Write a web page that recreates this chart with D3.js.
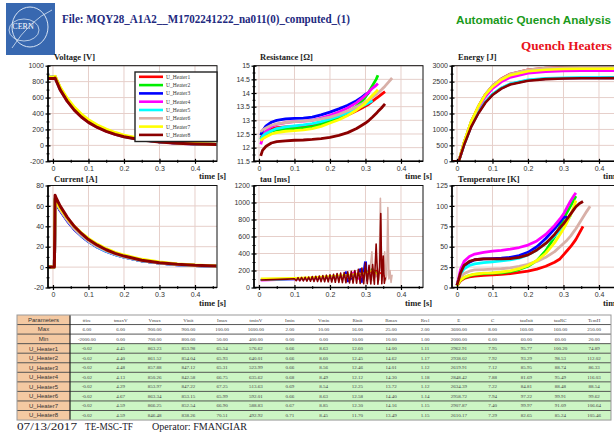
<!DOCTYPE html>
<html>
<head>
<meta charset="utf-8">
<script src="https://cdn.jsdelivr.net/npm/d3@7"></script>
<style>
  body { margin: 0; background: #fff; }
  .tick text { font-family: "Liberation Sans", Arial, sans-serif; font-size: 7px; fill: #333; }
</style>
</head>
<body>
<svg id="chart" width="614" height="432"></svg>
<script>
const heaters = ["U_Heater1", "U_Heater2", "U_Heater3", "U_Heater4", "U_Heater5", "U_Heater6", "U_Heater7", "U_Heater8"];
const heaterColors = ["#ff0000", "#00ee00", "#0000ff", "#ff00ff", "#00ffff", "#d8b0a8", "#ffff00", "#8b0000"];

// Voltage [V]
const voltT = [-0.02, 0.004, 0.006, 0.02, 0.04, 0.06, 0.08, 0.1, 0.125, 0.15, 0.175, 0.2, 0.25, 0.3, 0.35, 0.4, 0.46];
const voltage = [
  [854, 854, 863, 720, 575, 462, 374, 304, 238, 187, 147, 116, 74, 47, 30, 19, 11],
  [854, 854, 861, 718, 574, 461, 373, 303, 237, 186, 146, 115, 73, 46, 30, 19, 11],
  [847, 847, 858, 714, 570, 458, 370, 300, 235, 184, 145, 114, 72, 46, 29, 19, 11],
  [843, 843, 850, 705, 560, 448, 360, 292, 228, 178, 140, 110, 70, 44, 28, 18, 10],
  [847, 847, 854, 710, 565, 452, 364, 295, 231, 181, 142, 112, 71, 45, 29, 18, 10],
  [853, 853, 863, 720, 576, 463, 375, 305, 239, 188, 148, 117, 75, 47, 30, 19, 11],
  [853, 853, 866, 732, 592, 480, 392, 322, 255, 203, 161, 128, 82, 53, 34, 22, 13],
  [838, 838, 846, 700, 555, 443, 356, 288, 225, 176, 138, 108, 68, 43, 27, 17, 10]
];

// Current [A]
const currT = [-0.02, 0.004, 0.006, 0.01, 0.02, 0.04, 0.06, 0.08, 0.1, 0.125, 0.15, 0.175, 0.2, 0.25, 0.3, 0.35, 0.4, 0.46];
const current = [
  [0, 0, 65.5, 62.5, 56, 46, 37.5, 31, 25.5, 20, 16, 12.6, 10, 6.3, 4.0, 2.5, 1.6, 0.9],
  [0, 0, 65.9, 62.8, 56.3, 46.2, 37.7, 31.2, 25.6, 20.1, 16, 12.7, 10.1, 6.3, 4.0, 2.5, 1.6, 0.9],
  [0, 0, 65.3, 62, 55.5, 45.5, 37, 30.5, 25, 19.6, 15.5, 12.3, 9.8, 6.1, 3.9, 2.4, 1.5, 0.9],
  [0, 0, 66.8, 63.5, 56.8, 46.5, 37.8, 31, 25.4, 19.9, 15.7, 12.4, 9.9, 6.2, 3.9, 2.4, 1.5, 0.9],
  [0, 0, 67.3, 64, 57, 46.5, 37.8, 31, 25.4, 19.9, 15.7, 12.4, 9.9, 6.2, 3.9, 2.4, 1.5, 0.9],
  [0, 0, 66, 63, 56.5, 46.3, 37.8, 31.3, 25.7, 20.2, 16.1, 12.8, 10.2, 6.4, 4.1, 2.6, 1.6, 0.9],
  [0, 0, 66.9, 64, 58, 48, 40, 33.5, 28, 22.5, 18, 14.5, 11.8, 7.6, 4.9, 3.1, 2.0, 1.2],
  [0, 0, 70.5, 67, 60, 49, 40, 33, 27, 21.5, 17, 13.5, 10.8, 6.8, 4.3, 2.7, 1.7, 1.0]
];

// Energy [J]
const energyT = [-0.02, 0.005, 0.02, 0.04, 0.06, 0.08, 0.1, 0.125, 0.15, 0.2, 0.25, 0.3, 0.35, 0.4, 0.47];
const energy = [
  [0, 0, 593, 1244, 1719, 2104, 2370, 2593, 2741, 2874, 2927, 2948, 2957, 2960, 2963],
  [0, 0, 588, 1234, 1704, 2086, 2350, 2571, 2718, 2850, 2903, 2923, 2932, 2935, 2938],
  [0, 0, 524, 1100, 1520, 1860, 2096, 2293, 2424, 2541, 2589, 2607, 2615, 2617, 2620],
  [0, 0, 570, 1196, 1652, 2022, 2278, 2492, 2634, 2763, 2814, 2834, 2842, 2845, 2848],
  [0, 0, 527, 1106, 1528, 1870, 2107, 2305, 2436, 2555, 2602, 2621, 2629, 2631, 2634],
  [0, 0, 592, 1243, 1716, 2101, 2367, 2589, 2737, 2870, 2923, 2944, 2953, 2956, 2959],
  [0, 0, 600, 1250, 1720, 2090, 2340, 2560, 2700, 2825, 2875, 2895, 2903, 2906, 2908],
  [0, 0, 510, 1080, 1500, 1840, 2080, 2280, 2410, 2530, 2578, 2597, 2605, 2607, 2610]
];

// Resistance [Ohm]
const resT = [0.005, 0.01, 0.02, 0.035, 0.05, 0.075, 0.1, 0.125, 0.15, 0.175, 0.2, 0.225, 0.25, 0.275, 0.29, 0.3, 0.31, 0.32, 0.33, 0.335, 0.345, 0.355, 0.365, 0.375];
const resistance = [
  [12.35, 12.45, 12.58, 12.68, 12.73, 12.76, 12.78, 12.8, 12.83, 12.9, 12.98, 13.08, 13.2, 13.35, 13.45, 13.52, 13.6, 13.7, 13.8, 13.85, 13.95, 14.05],
  [12.3, 12.4, 12.5, 12.6, 12.65, 12.68, 12.7, 12.72, 12.76, 12.85, 12.98, 13.12, 13.3, 13.52, 13.7, 13.85, 14.05, 14.28, 14.5, 14.65],
  [12.45, 12.62, 12.8, 12.93, 13.0, 13.05, 13.07, 13.08, 13.12, 13.2, 13.3, 13.42, 13.55, 13.72, 13.85, 13.95, 14.01],
  [12.12, 12.35, 12.6, 12.78, 12.85, 12.92, 12.95, 12.97, 13.0, 13.08, 13.18, 13.3, 13.45, 13.65, 13.8, 13.92, 14.05, 14.18, 14.28, 14.35],
  [12.3, 12.42, 12.52, 12.62, 12.7, 12.76, 12.8, 12.83, 12.88, 12.95, 13.05, 13.15, 13.28, 13.42, 13.52, 13.58, 13.65, 13.72],
  [12.58, 12.65, 12.72, 12.82, 12.87, 12.92, 12.95, 12.97, 13.0, 13.05, 13.12, 13.22, 13.35, 13.5, 13.6, 13.68, 13.76, 13.85, 13.95, 14.0, 14.12, 14.25, 14.4, 14.55],
  [12.25, 12.32, 12.4, 12.5, 12.55, 12.6, 12.62, 12.65, 12.7, 12.78, 12.9, 13.02, 13.18, 13.38, 13.52, 13.63, 13.78, 13.92, 14.05, 14.12],
  [11.7, 11.9, 12.05, 12.17, 12.22, 12.25, 12.27, 12.28, 12.3, 12.33, 12.38, 12.45, 12.55, 12.7, 12.82, 12.9, 13.0, 13.12, 13.25, 13.32, 13.45, 13.6]
];

// Temperature [K]
const tempT = [0.0, 0.005, 0.01, 0.02, 0.035, 0.05, 0.075, 0.1, 0.125, 0.15, 0.175, 0.2, 0.225, 0.25, 0.275, 0.29, 0.3, 0.31, 0.32, 0.33, 0.335, 0.345, 0.355, 0.365, 0.375];
const temperature = [
  [2, 5, 8, 11, 13, 14, 15, 15.5, 16, 17, 18.5, 20, 22.5, 26, 31, 35, 40, 45, 50, 56, 59, 67, 74.9],
  [2, 6, 9, 12, 14.5, 16, 17, 17.5, 18, 19.5, 22, 26, 33, 45, 62, 75, 84, 92, 100, 108, 112],
  [3, 10, 18, 26, 31, 34, 35, 35.5, 36, 37, 39, 43, 50, 60, 72, 80, 86, 86.3],
  [3, 12, 22, 32, 38, 41, 43, 44.5, 45.5, 47, 49, 52, 57, 65, 76, 84, 90, 98, 106, 113, 116],
  [3, 9, 16, 23, 27, 29, 30.5, 31.5, 32.5, 34, 36, 40, 46, 54, 63, 70, 75, 81, 88.5],
  [3, 8, 12, 17, 20, 21.5, 22, 22.5, 23, 24, 26, 28.5, 32, 37, 44, 50, 54, 58, 63, 69, 72, 79, 86, 93, 99.6],
  [2, 6, 9, 12.5, 15, 16.5, 17.5, 18, 19, 20.5, 23, 27, 33, 42, 55, 65, 72, 80, 89, 100, 106.6],
  [3, 10, 18, 27, 32, 34, 35, 35, 35, 35.5, 37, 40, 46, 54, 65, 73, 78, 84, 90, 96, 99, 103, 105.5]
];

// tau [ms], each heater on its own time base
const tauT = [
  [0.005, 0.05, 0.1, 0.15, 0.2, 0.25, 0.3, 0.33, 0.35, 0.355],
  [0.005, 0.05, 0.1, 0.15, 0.2, 0.25, 0.3, 0.32, 0.335],
  [0.005, 0.05, 0.1, 0.15, 0.2, 0.24, 0.245, 0.25, 0.28, 0.285, 0.29, 0.296, 0.298, 0.3, 0.302, 0.304, 0.308],
  [0.005, 0.05, 0.1, 0.15, 0.2, 0.25, 0.27, 0.28, 0.3, 0.335],
  [0.005, 0.05, 0.1, 0.15, 0.2, 0.25, 0.3, 0.32],
  [0.005, 0.05, 0.1, 0.15, 0.2, 0.25, 0.3, 0.31, 0.318, 0.322, 0.33, 0.338, 0.342, 0.346, 0.35, 0.354, 0.357, 0.36, 0.363, 0.366, 0.369, 0.372, 0.375],
  [0.005, 0.05, 0.1, 0.15, 0.2, 0.25, 0.3, 0.32, 0.335],
  [0.005, 0.02, 0.04, 0.06, 0.08, 0.1, 0.105, 0.11, 0.115, 0.12, 0.125, 0.13, 0.135, 0.14, 0.145, 0.15, 0.155, 0.16, 0.165, 0.17,
   0.175, 0.18, 0.185, 0.19, 0.195, 0.2, 0.205, 0.21, 0.215, 0.22, 0.225, 0.23, 0.235, 0.24, 0.245, 0.25, 0.255, 0.26, 0.265, 0.27,
   0.275, 0.28, 0.285, 0.29, 0.295, 0.3, 0.305, 0.31, 0.315, 0.32, 0.325, 0.33, 0.335, 0.34, 0.343, 0.346, 0.35, 0.353, 0.356]
];
const tauMs = [
  [92, 95, 100, 110, 122, 135, 160, 200, 150, 120],
  [95, 98, 104, 112, 125, 140, 170, 220, 150],
  [88, 92, 100, 110, 125, 140, 185, 70, 170, 220, 60, 240, 300, 220, 300, 80, 150],
  [80, 85, 92, 100, 112, 125, 190, 100, 160, 140],
  [85, 90, 96, 105, 118, 130, 150, 130],
  [90, 95, 100, 110, 120, 130, 150, 100, 420, 80, 150, 90, 1050, 80, 200, 420, 90, 150, 940, 100, 200, 60, 150],
  [108, 110, 114, 122, 135, 150, 170, 200, 150],
  [88, 90, 93, 96, 99, 103, 80, 115, 78, 118, 77, 120, 75, 124, 74, 128, 72, 132, 70, 135,
   69, 140, 67, 145, 66, 150, 64, 155, 62, 165, 60, 170, 58, 175, 56, 185, 54, 190, 52, 200,
   50, 215, 48, 230, 46, 290, 44, 260, 42, 270, 40, 510, 40, 240, 870, 45, 370, 50, 120]
];

// summary table
const tableCols = ["tfire", "tmaxV", "Vmax", "Vinit", "Imax", "tminV", "Imin", "Vmin", "Rinit", "Rmax", "Rrel", "E", "C", "tauInit", "tauRC", "TemH"];
const tableMax = [6, 6, 900, 900, 100, 1600, 2, 10, 16, 25, 2, 3600, 8, 160, 160, 250];
const tableMin = [-2000, 0, 700, 800, 50, 400, 0, 0, 10, 10, 1, 2000, 6, 60, 60, 20];
const tableVals = [
  [-0.02, 4.45, 863.23, 853.98, 65.54, 576.62, 0.66, 8.63, 12.60, 14.00, 1.11, 2962.91, 7.95, 95.77, 100.20, 74.89],
  [-0.02, 4.40, 861.52, 854.04, 65.93, 640.01, 0.66, 8.60, 12.45, 14.62, 1.17, 2938.02, 7.92, 93.29, 98.53, 112.02],
  [-0.02, 4.48, 857.88, 847.12, 65.31, 523.99, 0.66, 8.56, 12.46, 14.01, 1.12, 2619.91, 7.12, 85.95, 88.74, 86.33],
  [-0.02, 4.13, 850.26, 842.58, 66.75, 635.62, 0.68, 8.49, 12.12, 14.30, 1.18, 2848.42, 7.88, 81.69, 95.49, 116.03],
  [-0.02, 4.29, 853.97, 847.22, 67.25, 513.63, 0.69, 8.54, 12.25, 13.72, 1.12, 2634.39, 7.22, 84.81, 88.48, 88.54],
  [-0.02, 4.67, 863.34, 853.15, 65.99, 592.01, 0.66, 8.63, 12.58, 14.40, 1.14, 2958.72, 7.94, 97.22, 99.91, 99.62],
  [-0.02, 4.59, 866.25, 852.54, 66.90, 588.83, 0.67, 8.85, 12.30, 14.16, 1.15, 2907.87, 7.40, 99.97, 91.09, 106.64],
  [-0.02, 4.59, 846.48, 838.26, 70.51, 492.92, 0.71, 8.45, 11.70, 13.49, 1.15, 2610.17, 7.29, 82.65, 85.24, 105.46]
];

const svg = d3.select("#chart");
const serif = '"Liberation Serif", "Times New Roman", serif';
const sans = '"Liberation Sans", Arial, sans-serif';

// ---- header ----
const logo = svg.append("g");
logo.append("rect").attr("x", 6).attr("y", 3).attr("width", 49).attr("height", 52).attr("fill", "#3868b0");
logo.append("ellipse").attr("cx", 30).attr("cy", 27).attr("rx", 18).attr("ry", 20)
  .attr("fill", "none").attr("stroke", "#d8e4f4").attr("stroke-width", 1);
logo.append("ellipse").attr("cx", 24).attr("cy", 30).attr("rx", 15).attr("ry", 11)
  .attr("fill", "none").attr("stroke", "#d8e4f4").attr("stroke-width", 0.8);
logo.append("path").attr("d", "M12,48 Q30,20 52,10").attr("fill", "none").attr("stroke", "#d8e4f4").attr("stroke-width", 0.8);
logo.append("text").attr("x", 23).attr("y", 29).attr("text-anchor", "middle")
  .attr("font-family", serif).attr("font-size", 8).attr("fill", "#fff").text("CERN");

svg.append("text").attr("x", 62).attr("y", 23)
  .attr("font-family", serif).attr("font-weight", "bold").attr("font-size", 12.5)
  .attr("fill", "#1e2a80").attr("textLength", 288).attr("lengthAdjust", "spacingAndGlyphs")
  .text("File: MQY28_A1A2__M1702241222_na011(0)_computed_(1)");
svg.append("text").attr("x", 456).attr("y", 24)
  .attr("font-family", sans).attr("font-weight", "bold").attr("font-size", 11)
  .attr("fill", "#1a9a1a").attr("textLength", 155).attr("lengthAdjust", "spacingAndGlyphs")
  .text("Automatic Quench Analysis");
svg.append("text").attr("x", 521).attr("y", 50)
  .attr("font-family", serif).attr("font-weight", "bold").attr("font-size", 12.5)
  .attr("fill", "#e8101a").attr("textLength", 91).attr("lengthAdjust", "spacingAndGlyphs")
  .text("Quench Heaters");

// ---- panels ----
const colX = [48, 254, 452];
const rowY = [[65.7, 161.3, -5.5], [185.5, 287.5, -3.5]];
const plotW = 169;
const xDom = [-0.014, 0.462];
const xMajor = [0, 0.1, 0.2, 0.3, 0.4];
const xMinor = [0.05, 0.15, 0.25, 0.35, 0.45];

function pairs(t, vs) {
  return vs.map(v => v.map((d, i) => [t[i], d]));
}

const panels = [
  { key: "volt", title: "Voltage [V]", col: 0, row: 0, dom: [-200, 1000],
    ticks: d3.range(-200, 1001, 200), minor: d3.range(-100, 1000, 200), sw: 3, series: pairs(voltT, voltage) },
  { key: "res", title: "Resistance [\u03a9]", col: 1, row: 0, dom: [11.5, 15],
    ticks: d3.range(11.5, 15.01, 0.5), minor: d3.range(11.75, 15, 0.5), sw: 2.8, series: pairs(resT, resistance) },
  { key: "energy", title: "Energy [J]", col: 2, row: 0, dom: [0, 3000],
    ticks: d3.range(0, 3001, 500), minor: d3.range(250, 3000, 500), sw: 2.6, series: pairs(energyT, energy) },
  { key: "curr", title: "Current [A]", col: 0, row: 1, dom: [-20, 80],
    ticks: d3.range(-20, 81, 20), minor: d3.range(-10, 80, 20), sw: 3, series: pairs(currT, current) },
  { key: "tau", title: "tau [ms]", col: 1, row: 1, dom: [0, 1200],
    ticks: d3.range(0, 1201, 200), minor: d3.range(100, 1200, 200), sw: 1.6,
    series: tauMs.map((v, h) => v.map((d, i) => [tauT[h][i], d])) },
  { key: "temp", title: "Temperature [K]", col: 2, row: 1, dom: [0, 125],
    ticks: d3.range(0, 126, 25), minor: d3.range(12.5, 125, 25), sw: 2.8, series: pairs(tempT, temperature) }
];

function drawPanel(p) {
  const x0 = colX[p.col];
  const [yTop, yBot, titleDy] = rowY[p.row];
  const x = d3.scaleLinear().domain(xDom).range([x0, x0 + plotW]);
  const y = d3.scaleLinear().domain(p.dom).range([yBot, yTop]);
  const g = svg.append("g");

  g.append("rect").attr("x", x0).attr("y", yTop).attr("width", plotW).attr("height", yBot - yTop).attr("fill", "#fff");

  // grid
  g.selectAll(".vgrid").data(xMajor).join("line")
    .attr("x1", d => x(d)).attr("x2", d => x(d)).attr("y1", yTop).attr("y2", yBot)
    .attr("stroke", "#e6cfca").attr("stroke-width", 1);
  g.selectAll(".hgrid").data(p.ticks).join("line")
    .attr("x1", x0).attr("x2", x0 + plotW).attr("y1", d => y(d)).attr("y2", d => y(d))
    .attr("stroke", "#e6cfca").attr("stroke-width", 1);

  // curves
  svg.append("clipPath").attr("id", "clip-" + p.key)
    .append("rect").attr("x", x0).attr("y", yTop).attr("width", plotW).attr("height", yBot - yTop);
  const line = d3.line().x(d => x(d[0])).y(d => y(d[1]));
  g.append("g").attr("clip-path", `url(#clip-${p.key})`)
    .selectAll("path").data(p.series).join("path")
    .attr("d", line)
    .attr("fill", "none")
    .attr("stroke", (d, i) => heaterColors[i])
    .attr("stroke-width", p.sw)
    .attr("stroke-linejoin", "round");

  // frame
  g.append("rect").attr("x", x0).attr("y", yTop).attr("width", plotW).attr("height", yBot - yTop)
    .attr("fill", "none").attr("stroke", "#111").attr("stroke-width", 1);
  g.append("path").attr("d", `M${x0},${yTop}V${yBot}H${x0 + plotW}`)
    .attr("fill", "none").attr("stroke", "#000").attr("stroke-width", 1.6);

  // y axis
  const ya = g.append("g").attr("transform", `translate(${x0},0)`)
    .call(d3.axisLeft(y).tickValues(p.ticks).tickSize(2.5).tickPadding(1.5).tickFormat(d => String(+d.toFixed(2))));
  ya.select(".domain").remove();
  ya.selectAll(".tick line").attr("x1", 2.5).attr("stroke", "#000").attr("stroke-width", 1.2);
  const ym = g.append("g").attr("transform", `translate(${x0},0)`)
    .call(d3.axisLeft(y).tickValues(p.minor).tickSize(1.5).tickFormat(""));
  ym.select(".domain").remove();
  ym.selectAll(".tick line").attr("x1", 1.5).attr("stroke", "#000");

  // x axis
  const xa = g.append("g").attr("transform", `translate(0,${yBot})`)
    .call(d3.axisBottom(x).tickValues(xMajor).tickSize(2.5).tickPadding(2).tickFormat(d => d === 0 ? "0" : d.toFixed(1)));
  xa.select(".domain").remove();
  xa.selectAll(".tick line").attr("y1", -2.5).attr("stroke", "#000").attr("stroke-width", 1.2);
  const xm = g.append("g").attr("transform", `translate(0,${yBot})`)
    .call(d3.axisBottom(x).tickValues(xMinor.filter(d => d < xDom[1])).tickSize(1.5).tickFormat(""));
  xm.select(".domain").remove();
  xm.selectAll(".tick line").attr("y1", -1.5).attr("stroke", "#000");

  // labels
  g.append("text").attr("x", x0 + 6).attr("y", yTop + titleDy)
    .attr("font-family", serif).attr("font-weight", "bold").attr("font-size", 8.5).attr("fill", "#222")
    .text(p.title);
  g.append("text").attr("x", x0 + plotW - 18).attr("y", yBot + 18)
    .attr("font-family", serif).attr("font-weight", "bold").attr("font-size", 8.5).attr("fill", "#222")
    .text("time [s]");
  return g;
}

panels.forEach(drawPanel);

// legend inside voltage panel
const legend = svg.append("g");
legend.append("rect").attr("x", 135).attr("y", 72).attr("width", 82).attr("height", 69.5)
  .attr("fill", "#fff").attr("stroke", "#222").attr("stroke-width", 1.4);
const le = legend.selectAll(".le").data(heaters).join("g")
  .attr("transform", (d, i) => `translate(0,${76.8 + i * 8.3})`);
le.append("line").attr("x1", 139).attr("x2", 163).attr("stroke", (d, i) => heaterColors[i]).attr("stroke-width", 2.6);
le.append("text").attr("x", 166).attr("dy", "0.35em")
  .attr("font-family", serif).attr("font-size", 5.5).attr("fill", "#333").text(d => d);

// ---- table ----
const tX = 17, tY = 315, rowH = 9.55, firstW = 53, tRight = 611;
const cellW = (tRight - tX - firstW) / tableCols.length;
const tableRows = [["Parameters", ...tableCols], ["Max", ...tableMax], ["Min", ...tableMin],
  ...tableVals.map((v, i) => [heaters[i], ...v])];
const table = svg.append("g");
tableRows.forEach((r, ri) => {
  const yy = tY + ri * rowH;
  const fill = ri < 3 ? "#ffffff" : "#ccf5c4";
  table.append("rect").attr("x", tX).attr("y", yy).attr("width", firstW).attr("height", rowH).attr("fill", "#f4c9a2");
  table.append("rect").attr("x", tX + firstW).attr("y", yy).attr("width", tRight - tX - firstW).attr("height", rowH).attr("fill", fill);
  r.forEach((c, ci) => {
    const cx = ci === 0 ? tX + firstW / 2 : tX + firstW + (ci - 0.5) * cellW;
    table.append("text").attr("x", cx).attr("y", yy + rowH / 2).attr("dy", "0.35em")
      .attr("text-anchor", "middle")
      .attr("font-family", ci === 0 ? sans : serif)
      .attr("font-size", ci === 0 ? 6 : 5)
      .attr("fill", ci === 0 ? "#333" : "#444")
      .text(ci === 0 || ri === 0 ? c : c.toFixed(2));
  });
});
table.selectAll(".hl").data(d3.range(1, tableRows.length)).join("line")
  .attr("x1", tX).attr("x2", tRight)
  .attr("y1", d => tY + d * rowH).attr("y2", d => tY + d * rowH)
  .attr("stroke", "#444").attr("stroke-width", 0.9);
table.append("line").attr("x1", tX + firstW).attr("x2", tX + firstW)
  .attr("y1", tY).attr("y2", tY + tableRows.length * rowH)
  .attr("stroke", "#222").attr("stroke-width", 1.2);
table.append("rect").attr("x", tX).attr("y", tY).attr("width", tRight - tX).attr("height", tableRows.length * rowH)
  .attr("fill", "none").attr("stroke", "#999").attr("stroke-width", 1);

// ---- footer ----
[["07/13/2017", 17, 60], ["TE-MSC-TF", 85, 48], ["Operator: FMANGIAR", 152, 95]].forEach(([s, fx, len]) => {
  svg.append("text").attr("x", fx).attr("y", 429.5)
    .attr("font-family", serif).attr("font-size", 10).attr("fill", "#1a1a2a")
    .attr("textLength", len).attr("lengthAdjust", "spacingAndGlyphs").text(s);
});
</script>
</body>
</html>
